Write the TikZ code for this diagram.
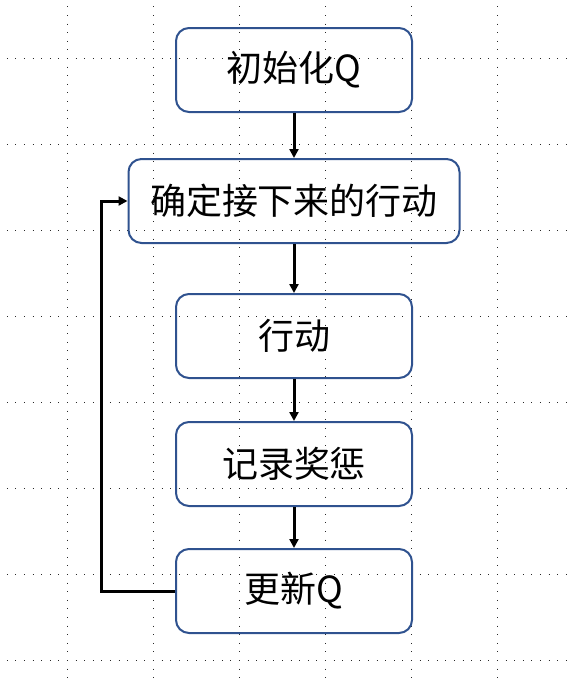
\documentclass[tikz,border=0pt]{standalone}
\usepackage{fontspec}
\setmainfont{Noto Sans CJK SC}
\usepackage{xcolor}
\definecolor{qblue}{RGB}{47,82,143}
\definecolor{gdot}{RGB}{40,40,40}
\usepackage{tikz}
\usetikzlibrary{arrows.meta,positioning}

\begin{document}
\begin{tikzpicture}[
  x=0.5pt,y=-0.5pt,
  node distance=24pt,
  qbox/.style={rectangle,draw=qblue,line width=1pt,rounded corners=6.5pt,minimum width=118pt,minimum height=42pt,align=center,font=\fontsize{18pt}{20pt}\selectfont},
  wbox/.style={qbox,minimum width=165.5pt},
  griddot/.style={gdot,line width=0.5pt,dash pattern=on 0.5pt off 3.8pt},
  arrow/.style={->,>={Triangle[length=4.5pt,width=4.5pt]},line width=1.5pt,black}
]
  \useasboundingbox (0,0) rectangle (568,682);

  % === Background grid ===
  \foreach \gx in {67,153,...,497}
    \draw[griddot] (\gx,6.4) -- (\gx,682);
  \foreach \gy in {58,144,...,660}
    \draw[griddot] (6.8,\gy) -- (568,\gy);

  % === Steps ===
  \node[qbox] (s1) at (294,70) {初始化Q};
  \node[wbox,below=22.5pt of s1] (s2) {确定接下来的行动};
  \node[qbox,below=24.5pt of s2] (s3) {行动};
  \node[qbox,below=21pt of s3] (s4) {记录奖惩};
  \node[qbox,below=20.5pt of s4] (s5) {更新Q};

  % Arrows
  \draw[arrow] (s1) -- (s2);
  \draw[arrow] (s2) -- (s3);
  \draw[arrow] (s3) -- (s4);
  \draw[arrow] (s4) -- (s5);
  \draw[arrow] (s5.west) -- ++(-74,0) |- (s2.west);
\end{tikzpicture}
\end{document}
